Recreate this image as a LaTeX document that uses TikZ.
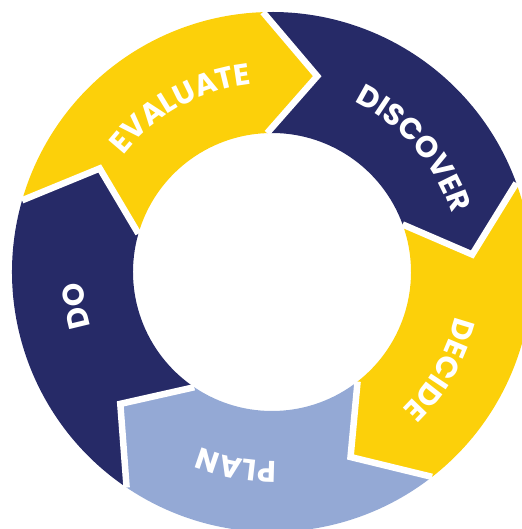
\documentclass[tikz,border=0pt]{standalone}
\usepackage{fontspec}
\newfontfamily\ringfont{Poppins}
\usepackage{tikz}
\usetikzlibrary{decorations.text}
\definecolor{cycleGold}{RGB}{252,208,10}
\definecolor{cycleNavy}{RGB}{38,42,103}
\definecolor{cycleSky}{RGB}{148,169,213}
\def\labelfont{\ringfont\bfseries\fontsize{30}{30}\selectfont}
\def\outerR{260}
\def\innerR{139}
\def\midR{201}
\def\baseR{189}
\tikzset{
  gapline/.style={white, line width=6.5bp, line join=miter, line cap=square},
  ringtext/.style={decorate, decoration={text along path, text align=center,
      text color=white, text={|\labelfont|#1}}}
}

\begin{document}
\begin{tikzpicture}[x=1bp, y=1bp]
  \useasboundingbox (-272,-257) rectangle (250,272);
  \clip (-272,-257) rectangle (250,272);

  % arrow segments, colour/tail/head, running clockwise
  \foreach \col/\a/\b in {cycleGold/164/92, cycleNavy/92/20, cycleGold/20/-52,
                          cycleSky/-52/-124, cycleNavy/-124/-196}{
    \fill[\col] (\a:\outerR) arc[start angle=\a, end angle=\b, radius=\outerR]
      -- (\b-15:\midR) -- (\b:\innerR)
      arc[start angle=\b, end angle=\a, radius=\innerR]
      -- (\a-15:\midR) -- cycle;
  }

  % white chevron gaps
  \foreach \b in {164, 92, 20, -52, -124}
    \draw[gapline] (\b:\outerR) -- (\b-15:\midR) -- (\b:\innerR);

  % labels
  \path[ringtext=EVALUATE] (169:\baseR) arc[start angle=169, end angle=69, radius=\baseR];
  \path[ringtext=DISCOVER] (91:\baseR) arc[start angle=91, end angle=-9, radius=\baseR];
  \path[ringtext=DECIDE] (20:\baseR) arc[start angle=20, end angle=-80, radius=\baseR];
  \path[ringtext=PLAN] (-50.5:\baseR) arc[start angle=-50.5, end angle=-150.5, radius=\baseR];
  \path[ringtext=DO] (240:\baseR) arc[start angle=240, end angle=140, radius=\baseR];
\end{tikzpicture}
\end{document}
